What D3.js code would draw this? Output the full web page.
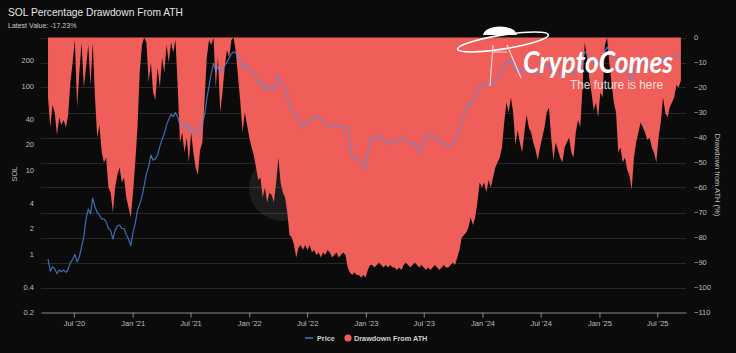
<!DOCTYPE html>
<html><head><meta charset="utf-8">
<script src="https://cdn.jsdelivr.net/npm/d3@7"></script>
<style>
html,body{margin:0;padding:0;background:#0b0b0b;}
svg{display:block;font-family:"Liberation Sans",Arial,sans-serif;}
</style>
</head><body>
<svg id="chart" width="736" height="353"></svg>
<script>
// ---------- data (weekly samples) ----------
const startDate = "2020-04-11";
const stepDays = 7;

const drawdown = [
 -24,-36,-27,-30,-39,-32,-35,-33,-36,-31,
 -18,-10,-1,-28,-14,-2,-20,-12,-3,-19,
 -2,-24,-40,-35,-46,-50,-48,-60,-62,-70,
 -60,-55,-52,-58,-56,-64,-68,-72,-62,-50,
 -36,-14,-3,0,-2,-18,-10,-22,-25,-12,
 -20,-8,-14,-3,-10,-2,-6,-1,-20,-42,
 -38,-46,-40,-50,-38,-46,-52,-55,-45,-42,
 -25,-8,-1,-3,0,-20,-8,-30,-22,-12,
 -5,-8,-1,0,-6,-16,-26,-38,-30,-35,
 -40,-44,-47,-52,-57,-56,-64,-60,-66,-62,
 -63,-66,-58,-48,-58,-62,-64,-70,-79,-80,
 -83,-88,-84,-83,-85,-83,-85,-83,-86,-85,
 -87,-86,-88,-86,-87,-85,-86,-88,-87,-86,
 -88,-87,-86,-87,-92,-94,-95,-94,-95,-95,
 -96,-95,-96,-93,-91,-91,-92,-91,-90,-91,
 -92,-91,-92,-91,-92,-92,-93,-92,-93,-91,
 -90,-91,-92,-91,-90,-91,-92,-91,-92,-93,
 -92,-93,-92,-91,-92,-93,-92,-91,-92,-92,
 -91,-90,-91,-88,-85,-80,-79,-78,-76,-72,
 -75,-72,-66,-58,-60,-58,-62,-57,-60,
 -56,-52,-50,-48,-44,-34,-26,-30,-24,-30,-43,
 -37,-42,-46,-38,-31,-36,-38,-42,-45,-49,
 -44,-40,-36,-30,-28,-40,-49,-42,-45,-48,
 -50,-44,-42,-40,-46,-48,-38,-33,-36,-20,
 -2,-8,-16,-22,-29,-26,-32,-22,-24,-3,
 0,-10,-18,-26,-30,-46,-44,-50,-48,-53,
 -55,-61,-48,-42,-38,-34,-36,-38,-41,-40,
 -44,-46,-50,-40,-34,-24,-30,-32,-28,-26,
 -24,-19,-20,-17.23
];

const price = [
 0.87,0.62,0.70,0.66,0.58,0.64,0.61,0.64,0.60,0.66,
 0.78,0.86,0.98,0.80,0.92,1.2,1.6,2.6,3.4,3.0,
 4.6,3.6,3.1,2.9,2.6,2.6,2.4,2.0,1.9,1.5,
 1.9,2.15,2.2,2.0,2.0,1.7,1.5,1.25,1.8,2.3,
 3.3,3.9,4.8,6.5,9.0,11,15,13,13.5,15,
 19,23,27,34,40,46,43,48,42,34,
 36,33,35,28,33,30,27,25,31,36,
 45,70,100,140,185,150,170,140,160,175,
 190,215,240,255,245,218,192,160,180,170,
 155,145,138,125,112,115,94,104,88,99,
 96,88,110,135,110,100,95,78,55,52,
 48,42,40,36,31,34,38,40,41,40,
 43,44,40,37,35,34,33,32,34,35,
 33,32,31,32,33,19,14,14,13.5,13,
 12,11,10.3,16,22,25,24,23,24,25,
 23,21,20,21,22,21,22,24,25,23,
 22,21,21,20,21,18,16,19,21,24,
 27,27,25,24,24,22,21,21,20,19,
 19,21,22,24,31,38,45,56,63,60,
 68,72,85,100,105,102,98,105,100,
 110,118,125,135,150,175,190,185,200,180,150,
 165,150,140,160,178,165,160,150,142,135,
 145,155,165,180,185,155,135,150,142,135,
 130,145,150,155,140,135,160,175,165,205,
 255,240,220,205,185,192,178,205,200,255,
 290,262,240,218,205,160,165,147,152,138,
 132,115,152,170,182,194,188,182,173,176,
 165,158,147,176,194,223,205,200,212,218,
 223,238,235,243
];

const priceTicks = [0.2, 0.4, 1, 2, 4, 10, 20, 40, 100, 200];
const drawdownTicks = [0, -10, -20, -30, -40, -50, -60, -70, -80, -90, -100, -110];
const xTickDates = ["2020-07-01","2021-01-01","2021-07-01","2022-01-01","2022-07-01","2023-01-01",
                    "2023-07-01","2024-01-01","2024-07-01","2025-01-01","2025-07-01"];
const xTickLabels = ["Jul '20","Jan '21","Jul '21","Jan '22","Jul '22","Jan '23",
                     "Jul '23","Jan '24","Jul '24","Jan '25","Jul '25"];
const latestValue = "-17.23%";

// ---------- layout ----------
const svg = d3.select("#chart");
const L = 41, R = 686, T = 37.5, B = 312.5;
const RED = "#ef5e58", BLUE = "#5290f2", TXT = "#bdbdbd";

const start = new Date(startDate + "T00:00:00Z");
const data = drawdown.map((d, i) => ({
  date: d3.utcDay.offset(start, i * stepDays),
  dd: d,
  price: price[i]
}));

const x = d3.scaleUtc()
  .domain([new Date("2020-03-20T00:00:00Z"), new Date("2025-09-29T00:00:00Z")])
  .range([L, R]);
const yL = d3.scaleLog().domain([0.2, 376]).range([B, T]);
const yR = d3.scaleLinear().domain([-110, 0]).range([B, T]);

svg.append("rect").attr("width", 736).attr("height", 353).attr("fill", "#0b0b0b");

// gridlines (right axis)
svg.append("g").selectAll("line").data(drawdownTicks.slice(0, -1)).join("line")
  .attr("x1", L).attr("x2", R)
  .attr("y1", d => Math.round(yR(d)) + 0.5).attr("y2", d => Math.round(yR(d)) + 0.5)
  .attr("stroke", "#272727").attr("stroke-width", 1);

// watermark circle (behind the area)
svg.append("circle").attr("cx", 282).attr("cy", 188).attr("r", 33)
  .attr("fill", "#ffffff").attr("fill-opacity", 0.07);

// drawdown area
svg.append("path").datum(data)
  .attr("fill", RED)
  .attr("d", d3.area().x(d => x(d.date)).y0(yR(0)).y1(d => yR(d.dd)));

// price line
svg.append("path").datum(data)
  .attr("fill", "none").attr("stroke", BLUE).attr("stroke-width", 1.2)
  .attr("stroke-opacity", 0.72).attr("stroke-linejoin", "round")
  .attr("d", d3.line().x(d => x(d.date)).y(d => yL(d.price)));

// x axis
const xa = svg.append("g").attr("transform", `translate(0,${B})`)
  .call(d3.axisBottom(x)
    .tickValues(xTickDates.map(s => new Date(s + "T00:00:00Z")))
    .tickFormat((d, i) => xTickLabels[i])
    .tickSize(5).tickSizeOuter(0).tickPadding(3));
xa.select(".domain").attr("stroke", "#8a8a8a");
xa.selectAll(".tick line").attr("stroke", "#8a8a8a");
xa.selectAll("text").attr("fill", TXT).attr("font-size", 7.5).attr("font-family", "Liberation Sans, Arial, sans-serif");

// left axis
const la = svg.append("g").attr("transform", `translate(${L},0)`)
  .call(d3.axisLeft(yL).tickValues(priceTicks).tickFormat(d3.format("~g")).tickSize(0).tickPadding(7));
la.select(".domain").remove();
la.selectAll("text").attr("fill", TXT).attr("font-size", 7.5).attr("font-family", "Liberation Sans, Arial, sans-serif");

// right axis
const ra = svg.append("g").attr("transform", `translate(${R},0)`)
  .call(d3.axisRight(yR).tickValues(drawdownTicks).tickFormat(d3.format("d")).tickSize(0).tickPadding(8));
ra.select(".domain").remove();
ra.selectAll("text").attr("fill", TXT).attr("font-size", 7.5).attr("font-family", "Liberation Sans, Arial, sans-serif");

// axis titles
svg.append("text").attr("transform", "translate(14.5,174) rotate(-90)")
  .attr("text-anchor", "middle").attr("dominant-baseline", "central")
  .attr("fill", TXT).attr("font-size", 7.5).text("SOL");
svg.append("text").attr("transform", "translate(717,175) rotate(90)")
  .attr("text-anchor", "middle").attr("dominant-baseline", "central")
  .attr("fill", TXT).attr("font-size", 7.5).text("Drawdown from ATH (%)");

// titles
svg.append("text").attr("x", 8).attr("y", 16).attr("fill", "#e4e4e4")
  .attr("font-size", 11.5).attr("textLength", 175).attr("lengthAdjust", "spacingAndGlyphs")
  .text("SOL Percentage Drawdown From ATH");
svg.append("text").attr("x", 8).attr("y", 27.5).attr("fill", "#c8c8c8")
  .attr("font-size", 7).text("Latest Value: " + latestValue);

// legend
const lg = svg.append("g").attr("font-size", 7.3).attr("font-weight", "bold").attr("fill", "#cfcfcf");
lg.append("line").attr("x1", 305).attr("x2", 313).attr("y1", 338).attr("y2", 338)
  .attr("stroke", BLUE).attr("stroke-width", 1.2);
lg.append("text").attr("x", 317).attr("y", 340.5).text("Price");
lg.append("circle").attr("cx", 348).attr("cy", 338).attr("r", 3.6).attr("fill", RED);
lg.append("text").attr("x", 354).attr("y", 340.5).text("Drawdown From ATH");

// logo
const logo = svg.append("g");
logo.append("path").attr("d", "M483,35 Q485,27 500,26.5 Q515,27 517,35 Z").attr("fill", "#ffffff");
logo.append("ellipse").attr("cx", 503).attr("cy", 42).attr("rx", 46).attr("ry", 7)
  .attr("transform", "rotate(-9,503,42)").attr("fill", "none").attr("stroke", "#ffffff").attr("stroke-width", 1.6);
logo.append("path").attr("d", "M493,45 L490,86 M507,45 L521,78 M493,52 L507,52")
  .attr("fill", "none").attr("stroke", "#f6d6d2").attr("stroke-width", 1.2);
logo.append("text").attr("x", 523).attr("y", 73).attr("fill", "#ffffff")
  .attr("font-family", "Lato, 'Open Sans', sans-serif").attr("font-style", "italic").attr("font-weight", "bold")
  .attr("font-size", 30).attr("textLength", 150).attr("lengthAdjust", "spacingAndGlyphs")
  .text("CryptoComes");
logo.append("text").attr("x", 570).attr("y", 88.5).attr("fill", "#ffffff").attr("fill-opacity", 0.82)
  .attr("font-size", 12).attr("textLength", 93).attr("lengthAdjust", "spacingAndGlyphs")
  .text("The future is here");
</script>
</body></html>
